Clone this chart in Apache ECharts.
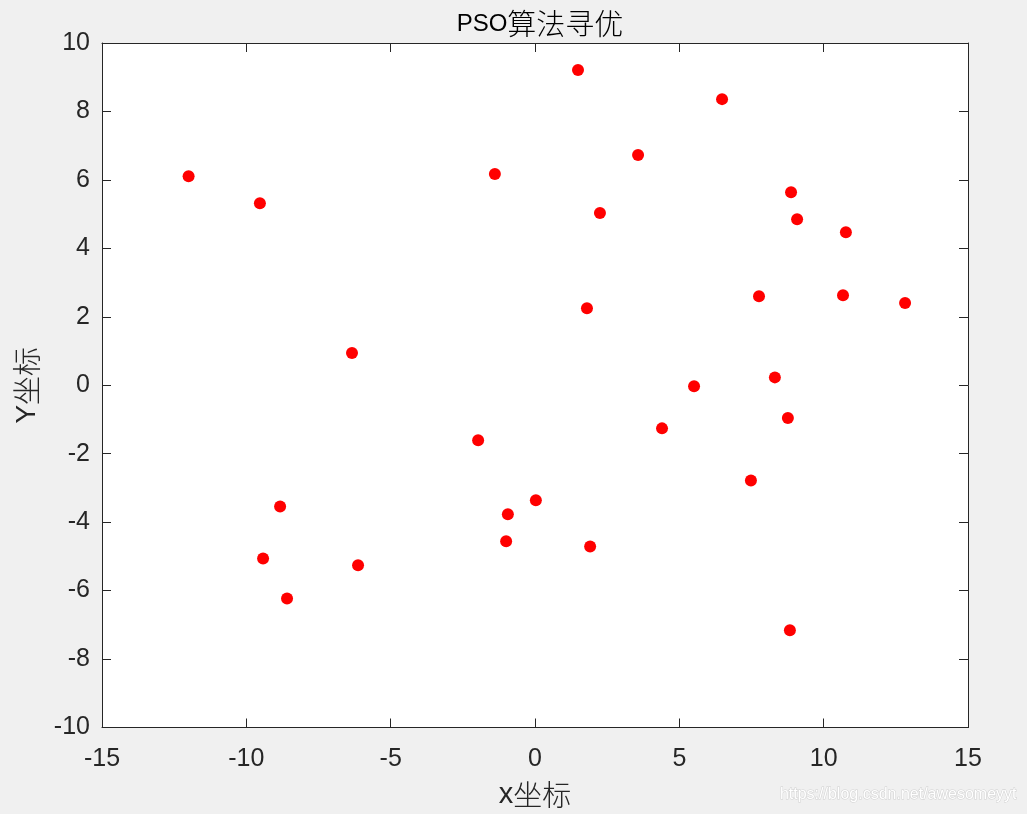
<!DOCTYPE html>
<html>
<head>
<meta charset="utf-8">
<style>
  html, body { margin: 0; padding: 0; background: #f0f0f0; }
  #chart { width: 1027px; height: 814px; }
</style>
<script src="https://cdn.jsdelivr.net/npm/echarts@6/dist/echarts.min.js"></script>
</head>
<body>
<div id="chart"></div>
<script>
  // 粒子位置
  const xs = [-12.0, -9.53, 1.49, 6.48, 3.57, -1.39, 8.87, 2.25, 9.08, 10.77,
    7.76, 10.67, 12.82, 1.80, -6.34, 5.51, 8.31, 8.76, 4.40, -1.97,
    7.48, 0.03, -8.83, -0.94, -1.00, 1.91, -9.42, -6.13, -8.59, 8.83]
  const ys = [6.11, 5.32, 9.21, 8.36, 6.73, 6.17, 5.64, 5.03, 4.85, 4.47,
    2.60, 2.63, 2.40, 2.25, 0.94, -0.03, 0.23, -0.96, -1.26, -1.61,
    -2.78, -3.36, -3.54, -3.77, -4.56, -4.71, -5.06, -5.26, -6.23, -7.16]
  const xRange = [-15, 15]
  const yRange = [-10, 10]

  const chart = echarts.init(document.getElementById('chart'))
  const tickFont = { fontFamily: 'Liberation Sans, Arial', fontSize: 25, color: '#262626' }
  // 拉丁字母和中文分开设字号, 跟原图一样中文字显得大一些
  const latin = { fontFamily: 'Liberation Sans, Arial', color: '#262626', fontWeight: 'normal' }
  const cjk = { fontFamily: 'Noto Sans CJK SC', color: '#262626', fontWeight: 300 }

  const axisCommon = {
    type: 'value',
    axisLine: { show: true, onZero: false, lineStyle: { color: '#262626', width: 1 } },
    axisTick: { show: true, inside: true, length: 9, lineStyle: { color: '#262626' } },
    splitLine: { show: false }
  }

  chart.setOption({
    backgroundColor: '#f0f0f0',
    title: {
      text: '{a|PSO}{b|算法寻优}',
      left: 535,
      textAlign: 'center',
      top: 4,
      textStyle: {
        fontWeight: 'normal',
        rich: {
          a: Object.assign({}, latin, { fontSize: 24, color: '#000', lineHeight: 30 }),
          b: Object.assign({}, cjk, { fontSize: 29, color: '#000', lineHeight: 30 })
        }
      }
    },
    grid: { left: 102, top: 43, right: 59, bottom: 86, show: true, backgroundColor: '#fff', borderWidth: 0 },
    xAxis: [
      Object.assign({}, axisCommon, {
        min: xRange[0], max: xRange[1], interval: 5, position: 'bottom',
        axisLabel: Object.assign({ margin: 19 }, tickFont),
        name: '{a|x}{b|坐标}', nameLocation: 'middle', nameGap: 52,
        nameTextStyle: {
          rich: {
            a: Object.assign({}, latin, { fontSize: 29, lineHeight: 30 }),
            b: Object.assign({}, cjk, { fontSize: 29, lineHeight: 30 })
          }
        }
      }),
      Object.assign({}, axisCommon, {
        min: xRange[0], max: xRange[1], interval: 5, position: 'top',
        axisLabel: { show: false }
      })
    ],
    yAxis: [
      Object.assign({}, axisCommon, {
        min: yRange[0], max: yRange[1], interval: 2, position: 'left',
        axisLabel: Object.assign({ margin: 12 }, tickFont),
        name: '{a|Y}{b|坐标}', nameLocation: 'middle', nameGap: 60,
        nameTextStyle: {
          rich: {
            a: Object.assign({}, latin, { fontSize: 28, lineHeight: 30 }),
            b: Object.assign({}, cjk, { fontSize: 29, lineHeight: 30 })
          }
        }
      }),
      Object.assign({}, axisCommon, {
        min: yRange[0], max: yRange[1], interval: 2, position: 'right',
        axisLabel: { show: false }
      })
    ],
    series: [{
      type: 'scatter',
      symbolSize: 12,
      itemStyle: { color: '#ff0000', opacity: 1 },
      data: xs.map((x, i) => [x, ys[i]])
    }],
    graphic: [{
      type: 'text',
      right: 10,
      top: 786,
      style: {
        text: 'https://blog.csdn.net/awesomeyyt',
        font: '16px Liberation Sans, Arial',
        fill: '#ffffff',
        stroke: '#d0d0d0',
        lineWidth: 1
      }
    }]
  })
</script>
</body>
</html>
